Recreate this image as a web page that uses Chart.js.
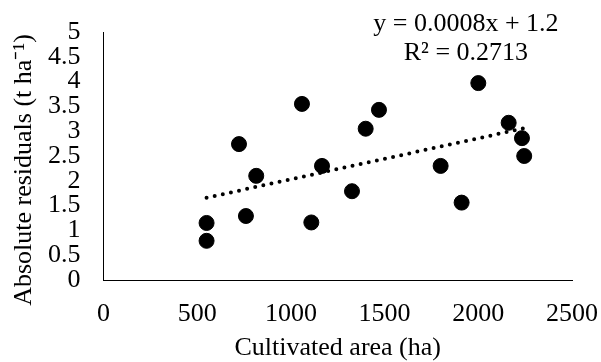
<!DOCTYPE html>
<html>
<head>
<meta charset="utf-8">
<script src="https://cdn.jsdelivr.net/npm/chart.js@4"></script>
<style>
  body { margin: 0; background: #fff; }
  #caja { width: 601px; height: 362px; }
</style>
</head>
<body>
<div id="caja"><canvas id="grafica"></canvas></div>
<script>
// datos
const areaHa = [550, 550, 760, 723, 815, 1059, 1470, 1399, 2000, 2162, 2233, 2245, 1166, 1799, 1109, 1326, 1911];
const residuos = [1.15, 0.79, 1.29, 2.74, 2.10, 3.55, 3.43, 3.05, 3.97, 3.17, 2.86, 2.50, 2.30, 2.30, 1.16, 1.79, 1.56];
const ticksX = [0, 500, 1000, 1500, 2000, 2500];
const ticksY = [0, 0.5, 1, 1.5, 2, 2.5, 3, 3.5, 4, 4.5, 5];
const ecuacion = ['y = 0.0008x + 1.2', 'R² = 0.2713'];
const tituloY = 'Absolute residuals (t ha⁻¹)';

const fuente = '"Liberation Serif", "Times New Roman", serif';

// línea de tendencia por mínimos cuadrados
const n = areaHa.length;
const mx = areaHa.reduce((a, b) => a + b, 0) / n;
const my = residuos.reduce((a, b) => a + b, 0) / n;
let sxy = 0, sxx = 0;
areaHa.forEach((x, i) => { sxy += (x - mx) * (residuos[i] - my); sxx += (x - mx) * (x - mx); });
const pendiente = sxy / sxx;
const intercepto = my - pendiente * mx;
const xMin = Math.min(...areaHa), xMax = Math.max(...areaHa);
const tendencia = [
  { x: xMin, y: intercepto + pendiente * xMin },
  { x: xMax, y: intercepto + pendiente * xMax }
];

// textos extra: ecuación y título del eje Y
const textosExtra = {
  id: 'textosExtra',
  afterDraw(chart) {
    const { ctx, scales, chartArea } = chart;
    ctx.save();
    ctx.font = '26px ' + fuente;
    ctx.fillStyle = '#000';
    ctx.textAlign = 'center';
    ctx.textBaseline = 'middle';
    const x = scales.x.getPixelForValue(1934);
    ctx.fillText(ecuacion[0], x, scales.y.getPixelForValue(5.15));
    ctx.fillText(ecuacion[1], x, scales.y.getPixelForValue(4.57));

    // título Y girado, un poco más abajo que el centro como en Excel
    ctx.translate(chartArea.left - 79, (chartArea.top + chartArea.bottom) / 2 + 14);
    ctx.rotate(-Math.PI / 2);
    ctx.fillText(tituloY, 0, 0);
    ctx.restore();
  }
};

const ctx = document.getElementById('grafica').getContext('2d');
new Chart(ctx, {
  type: 'scatter',
  data: {
    datasets: [
      {
        label: 'Residuos',
        data: areaHa.map((x, i) => ({ x: x, y: residuos[i] })),
        backgroundColor: '#000',
        borderColor: '#000',
        pointRadius: 7.5,
        pointHoverRadius: 7.5,
        order: 1
      },
      {
        label: 'Tendencia',
        type: 'line',
        data: tendencia,
        borderColor: '#000',
        borderWidth: 4,
        borderDash: [0, 8.3],
        borderCapStyle: 'round',
        pointRadius: 0,
        fill: false,
        order: 2
      }
    ]
  },
  options: {
    responsive: true,
    maintainAspectRatio: false,
    animation: false,
    layout: { padding: { top: 32, right: 29, left: 0, bottom: 0 } },
    plugins: {
      legend: { display: false },
      tooltip: { enabled: false }
    },
    scales: {
      x: {
        type: 'linear',
        min: 0,
        max: 2500,
        afterBuildTicks: s => { s.ticks = ticksX.map(v => ({ value: v })); },
        afterFit: s => { s.height = 82; s.paddingLeft = 0; s.paddingRight = 0; },
        grid: { display: false, drawTicks: false },
        border: { display: true, color: '#000', width: 1 },
        ticks: { color: '#000', font: { family: fuente, size: 26 }, padding: 19, maxRotation: 0, autoSkip: false, callback: v => String(v) },
        title: { display: true, text: 'Cultivated area (ha)', color: '#000', font: { family: fuente, size: 26 }, padding: { top: 0, bottom: -2 } }
      },
      y: {
        type: 'linear',
        min: 0,
        max: 5,
        afterBuildTicks: s => { s.ticks = ticksY.map(v => ({ value: v })); },
        afterFit: s => { s.width = 103.5; s.paddingTop = 0; s.paddingBottom = 0; },
        grid: { display: false, drawTicks: false },
        border: { display: true, color: '#000', width: 1 },
        ticks: { color: '#000', font: { family: fuente, size: 26 }, padding: 23, autoSkip: false, callback: v => String(v) },
        title: { display: false }
      }
    }
  },
  plugins: [textosExtra]
});
</script>
</body>
</html>
